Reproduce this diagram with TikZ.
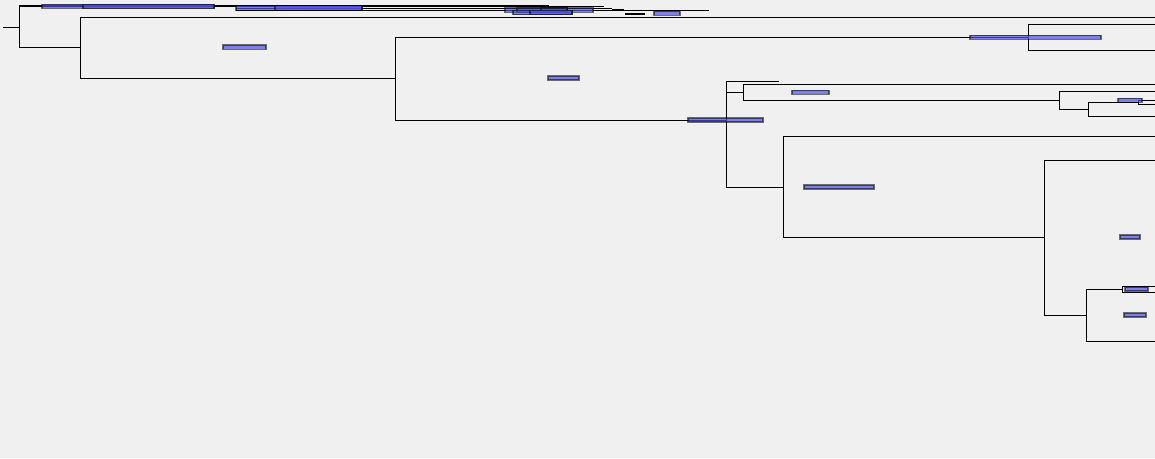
\documentclass[tikz,border=0pt]{standalone}
\usepackage{tikz}

\definecolor{panelgrey}{RGB}{240,240,240}
\definecolor{barblue}{RGB}{80,80,230}

\begin{document}
\begin{tikzpicture}[x=0.02cm, y=-0.02cm,
	branch/.style={draw=black, line width=0.55pt},
	hpd/.style={fill=barblue, fill opacity=0.7, draw=black, draw opacity=0.55, line width=0.6pt}]
		
		\fill[panelgrey] (0,0) rectangle (1155,458);
		\useasboundingbox (0,0) rectangle (1155,458);
		
		% root and collapsed top clade
		\draw[branch] (3,27) -- (19,27);
		\draw[branch] (19,6) -- (19,47);
		\draw[branch] (19,47) -- (80,47);
		\draw[branch, line width=1.1pt] (19,5.8) -- (549,5.8);
		\draw[branch] (214,6.8) -- (604,6.8);
		\draw[branch] (236,8.5) -- (612,8.5);
		\draw[branch] (612,8.5) -- (612,10.3);
		\draw[branch] (612,9.3) -- (624,9.3);
		\draw[branch] (236,10.3) -- (709,10.3);
		\draw[branch, line width=1.5pt] (625,14) -- (645,14);
		
		% upper backbone
		\draw[branch] (80,17) -- (80,78);
		\draw[branch] (80,17) -- (1155,17);
		\draw[branch] (80,78) -- (395,78);
		\draw[branch] (395,37) -- (395,120);
		\draw[branch] (395,37) -- (1028,37);
		\draw[branch] (395,120) -- (726,120);
		\draw[branch] (1028,24) -- (1028,50);
		\draw[branch] (1028,24) -- (1155,24);
		\draw[branch] (1028,50) -- (1155,50);
		
		% middle clade
		\draw[branch] (726,81.7) -- (726,187);
		\draw[branch] (726,81.7) -- (779,81.7);
		\draw[branch] (726,92.3) -- (743,92.3);
		\draw[branch] (743,84.3) -- (743,100.3);
		\draw[branch] (743,84.3) -- (1155,84.3);
		\draw[branch] (743,100.3) -- (1059,100.3);
		\draw[branch] (1059,91.3) -- (1059,109.3);
		\draw[branch] (1059,91.3) -- (1155,91.3);
		\draw[branch] (1059,109.3) -- (1088,109.3);
		\draw[branch] (1088,102.7) -- (1088,116.3);
		\draw[branch] (1088,102.7) -- (1138,102.7);
		\draw[branch] (1088,116.3) -- (1155,116.3);
		\draw[branch] (1138,100.7) -- (1138,104.3);
		\draw[branch] (1138,100.7) -- (1155,100.7);
		\draw[branch] (1138,104.3) -- (1155,104.3);
		
		% lower clade
		\draw[branch] (726,187) -- (783,187);
		\draw[branch] (783,136) -- (783,237);
		\draw[branch] (783,136) -- (1155,136);
		\draw[branch] (783,237) -- (1044,237);
		\draw[branch] (1044,160) -- (1044,315);
		\draw[branch] (1044,160) -- (1155,160);
		\draw[branch] (1044,315) -- (1086,315);
		\draw[branch] (1086,289.3) -- (1086,341);
		\draw[branch] (1086,289.3) -- (1122,289.3);
		\draw[branch] (1086,341) -- (1155,341);
		\draw[branch] (1122,286.7) -- (1122,292.3);
		\draw[branch] (1122,286.7) -- (1155,286.7);
		\draw[branch] (1122,292.3) -- (1155,292.3);
		
		% node age bars
		\path[hpd] (42,4.3) rectangle (214,8.3);
		\path[hpd] (83,4.3) rectangle (214,8.3);
		\path[hpd] (236,5.6) rectangle (362,10.3);
		\path[hpd] (275,5.6) rectangle (362,10.3);
		\path[hpd] (505,8) rectangle (593,12.3);
		\path[hpd] (517,8) rectangle (567,12.3);
		\path[hpd] (541,8) rectangle (567,12.3);
		\path[hpd] (513,10.3) rectangle (572,14.7);
		\path[hpd] (530,10.3) rectangle (572,14.7);
		\path[hpd] (654,11.3) rectangle (680,15.3);
		\path[hpd] (223,45) rectangle (266,49.3);
		\path[hpd] (548,76) rectangle (579,80);
		\path[hpd] (970,35.3) rectangle (1101,39.3);
		\path[hpd] (792,90.3) rectangle (829,94.3);
		\path[hpd] (688,118) rectangle (763,122);
		\path[hpd] (1118,98.3) rectangle (1142,102.3);
		\path[hpd] (804,185) rectangle (874,189);
		\path[hpd] (1120,235) rectangle (1140,239);
		\path[hpd] (1125,287) rectangle (1148,291);
		\path[hpd] (1124,313) rectangle (1146,317);
		
\end{tikzpicture}
\end{document}
